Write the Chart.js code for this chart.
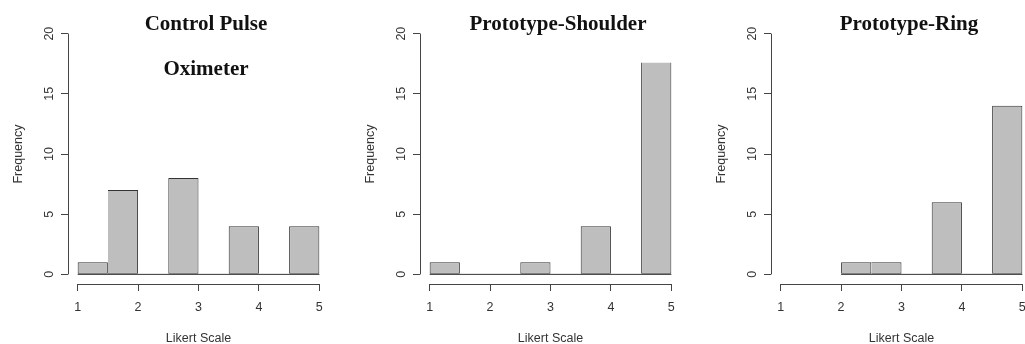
<!DOCTYPE html>
<html>
<head>
<meta charset="utf-8">
<script src="https://cdn.jsdelivr.net/npm/chart.js@4.4.0/dist/chart.umd.min.js"></script>
<style>
  html, body { margin: 0; padding: 0; background: #fff; overflow: hidden; }
  body { position: relative; width: 1025px; height: 344px; }
  .panel { position: absolute; top: 0; width: 352px; height: 344px; }
  .panel canvas { position: absolute; left: 0; top: 0; }
  .title {
    position: absolute; left: 56px; top: 1px; width: 300px;
    text-align: center; color: #111;
    font: bold 21px "Liberation Serif", "Times New Roman", serif;
    line-height: 45px;
  }
</style>
</head>
<body>
<script>
// histogram bins (width 0.5) and counts; null = no bin
const breaks = [1, 1.5, 2, 2.5, 3, 3.5, 4, 4.5, 5];
const controlCounts = [1, 7, 0, 8, 0, 4, 0, 4];
const shoulderCounts = [1, 0, 0, 1, 0, 4, 0, 17.6];
const ringCounts = [null, null, 1, 1, 0, 6, 0, 14];

const titles = [["Control Pulse", "Oximeter"], ["Prototype-Shoulder"], ["Prototype-Ring"]];
const xTicks = [1, 2, 3, 4, 5];
const yTicks = [0, 5, 10, 15, 20];
const xLabel = "Likert Scale";
const yLabel = "Frequency";

// the tall shoulder bar has its top edge cut off in the source
const openTop = [[], [7], []];

const panelLeft = [0, 352, 703];
const allCounts = [controlCounts, shoulderCounts, ringCounts];

Chart.defaults.font.family = '"Liberation Sans", Arial, sans-serif';
Chart.defaults.font.size = 12.5;
Chart.defaults.color = "#333";

// R style axis lines: only span the first to last tick
const axisLines = {
  id: "axisLines",
  afterDraw(chart) {
    const { ctx, chartArea, scales: { x, y } } = chart;
    const L = Math.round(chartArea.left) + 0.5;
    const B = Math.round(chartArea.bottom) + 0.5;
    ctx.save();
    ctx.strokeStyle = "#444";
    ctx.lineWidth = 1;
    ctx.beginPath();
    ctx.moveTo(L, y.getPixelForValue(yTicks[0]));
    ctx.lineTo(L, y.getPixelForValue(yTicks[yTicks.length - 1]));
    ctx.moveTo(x.getPixelForValue(xTicks[0]), B);
    ctx.lineTo(x.getPixelForValue(xTicks[xTicks.length - 1]), B);
    ctx.stroke();
    ctx.restore();
  }
};

function makeHist(idx) {
  const counts = allCounts[idx];
  const panel = document.createElement("div");
  panel.className = "panel";
  panel.style.left = panelLeft[idx] + "px";
  const canvas = document.createElement("canvas");
  canvas.width = 352;
  canvas.height = 344;
  panel.appendChild(canvas);
  const t = document.createElement("div");
  t.className = "title";
  t.innerHTML = titles[idx].join("<br>");
  panel.appendChild(t);
  document.body.appendChild(panel);

  const bars = [];
  counts.forEach((c, i) => {
    if (c === null) return;
    bars.push({ x: (breaks[i] + breaks[i + 1]) / 2, y: c, bin: i });
  });
  const first = counts.findIndex(c => c !== null);
  const baseline = [{ x: breaks[first], y: 0 }, { x: breaks[breaks.length - 1], y: 0 }];

  const xPad = 0.04 * (xTicks[xTicks.length - 1] - xTicks[0]);
  const yPad = 0.04 * (yTicks[yTicks.length - 1] - yTicks[0]);

  new Chart(canvas, {
    type: "bar",
    data: {
      datasets: [
        {
          type: "line",
          data: baseline,
          borderColor: "#333",
          borderWidth: 1,
          pointRadius: 0
        },
        {
          data: bars,
          backgroundColor: "#bebebe",
          borderColor: "#333",
          borderWidth: 1,
          inflateAmount: 0,
          barPercentage: 1,
          categoryPercentage: 1,
          borderSkipped: ctx => {
            const i = ctx.raw.bin;
            if (openTop[idx].includes(i)) return "top";
            return (i > 0 && counts[i - 1] > 0) ? "left" : false;
          }
        }
      ]
    },
    options: {
      responsive: false,
      animation: false,
      layout: { padding: { top: 24, right: 23, left: 0, bottom: 0 } },
      plugins: { legend: { display: false }, tooltip: { enabled: false } },
      scales: {
        x: {
          type: "linear",
          offset: false,
          min: xTicks[0] - xPad,
          max: xTicks[xTicks.length - 1] + xPad,
          afterBuildTicks: s => { s.ticks = xTicks.map(v => ({ value: v })); },
          afterFit: s => { s.height = 60; },
          grid: { offset: false, drawOnChartArea: false, tickLength: 7, color: "#444" },
          border: { display: false },
          ticks: { padding: 9, maxRotation: 0, autoSkip: false },
          title: { display: true, text: xLabel, padding: { top: 0, bottom: -2 } }
        },
        y: {
          min: yTicks[0] - yPad,
          max: yTicks[yTicks.length - 1] + yPad,
          afterBuildTicks: s => { s.ticks = yTicks.map(v => ({ value: v })); },
          afterFit: s => { s.width = 68; },
          grid: { drawOnChartArea: false, tickLength: 7, color: "#444" },
          border: { display: false },
          ticks: { padding: 5, minRotation: 90, maxRotation: 90, crossAlign: "center" },
          title: { display: true, text: yLabel, padding: { top: 11, bottom: 0 } }
        }
      }
    },
    plugins: [axisLines]
  });
}

[0, 1, 2].forEach(makeHist);
</script>
</body>
</html>
